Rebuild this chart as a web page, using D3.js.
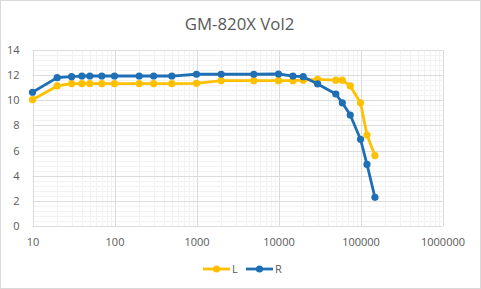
<!DOCTYPE html>
<html><head><meta charset="utf-8">
<script src="https://cdn.jsdelivr.net/npm/d3@7"></script>
<style>
html,body{margin:0;padding:0;background:#fff;}
svg{display:block;font-family:"Open Sans","Liberation Sans",sans-serif;}
</style></head>
<body><svg id="c" width="481" height="289"></svg>
<script>
const title = "GM-820X Vol2";
const freqs = [10,20,30,40,50,70,100,200,300,500,1000,2000,5000,10000,15000,20000,30000,50000,60000,75000,100000,120000,150000];
const seriesL = [10.05,11.14,11.32,11.32,11.32,11.32,11.32,11.32,11.32,11.32,11.35,11.56,11.56,11.56,11.56,11.6,11.67,11.6,11.6,11.14,9.8,7.24,5.6];
const seriesR = [10.64,11.8,11.88,11.93,11.93,11.93,11.93,11.93,11.93,11.93,12.07,12.07,12.07,12.09,11.93,11.88,11.3,10.5,9.8,8.83,6.9,4.9,2.28];
const seriesNames = ["L","R"];
const xTicks = [10,100,1000,10000,100000,1000000];
const yTicks = [0,2,4,6,8,10,12,14];

const colors = {L:"#FFC000", R:"#1F6FB5"};
const svg = d3.select("#c");
svg.append("rect").attr("x",0.5).attr("y",0.5).attr("width",480).attr("height",288)
  .attr("fill","#fff").attr("stroke","#d9d9d9");

const x = d3.scaleLog().domain([10,1000000]).range([32.5,442.5]);
const y = d3.scaleLinear().domain([0,14]).range([226,50]);

const g = svg.append("g");
const yMinor = d3.range(0,14.001,0.4).filter(v=>Math.abs(v/2-Math.round(v/2))>1e-6);
g.selectAll(".ymin").data(yMinor).join("line")
  .attr("x1",x.range()[0]).attr("x2",x.range()[1])
  .attr("y1",d=>Math.round(y(d))+0.5).attr("y2",d=>Math.round(y(d))+0.5)
  .attr("stroke","#f2f2f2").attr("stroke-width",1);
const xMinor = [];
for (let dec=10; dec<1000000; dec*=10) for (let k=2;k<=9;k++) xMinor.push(dec*k);
g.selectAll(".xmin").data(xMinor).join("line")
  .attr("y1",y(0)).attr("y2",y(14))
  .attr("x1",d=>Math.round(x(d))+0.5).attr("x2",d=>Math.round(x(d))+0.5)
  .attr("stroke","#f2f2f2").attr("stroke-width",1);
g.selectAll(".ymaj").data(yTicks).join("line")
  .attr("x1",x.range()[0]).attr("x2",x.range()[1])
  .attr("y1",d=>Math.round(y(d))+0.5).attr("y2",d=>Math.round(y(d))+0.5)
  .attr("stroke","#dcdcdc").attr("stroke-width",1);
g.selectAll(".xmaj").data(xTicks).join("line")
  .attr("y1",y(0)).attr("y2",y(14))
  .attr("x1",d=>Math.round(x(d))+0.5).attr("x2",d=>Math.round(x(d))+0.5)
  .attr("stroke","#dcdcdc").attr("stroke-width",1);

const yAxis = svg.append("g").attr("transform",`translate(${x.range()[0]-10},0)`)
  .call(d3.axisLeft(y).tickValues(yTicks).tickSize(0).tickFormat(d3.format("d")));
yAxis.select(".domain").remove();
yAxis.selectAll("text").attr("fill","#595959").attr("font-size",11).attr("font-family","Open Sans, Liberation Sans, sans-serif");

const xAxis = svg.append("g").attr("transform",`translate(0,${y(0)+9})`)
  .call(d3.axisBottom(x).tickValues(xTicks).tickSize(0).tickFormat(d3.format("d")));
xAxis.select(".domain").remove();
xAxis.selectAll("text").attr("fill","#595959").attr("font-size",11).attr("font-family","Open Sans, Liberation Sans, sans-serif");

svg.append("text").attr("x",239.5).attr("y",29.5).attr("text-anchor","middle")
  .attr("fill","#595959").attr("font-size",16.8).text(title);

const data = {L:seriesL, R:seriesR};
const line = d3.line().x(d=>x(d[0])).y(d=>y(d[1]));
seriesNames.forEach(name=>{
  const pts = freqs.map((f,i)=>[f,data[name][i]]);
  svg.append("path").datum(pts).attr("d",line).attr("fill","none")
    .attr("stroke",colors[name]).attr("stroke-width",2.8).attr("stroke-linejoin","round");
  svg.append("g").selectAll("circle").data(pts).join("circle")
    .attr("cx",d=>x(d[0])).attr("cy",d=>y(d[1])).attr("r",3.6).attr("fill",colors[name]);
});

const leg = svg.append("g");
const legItems = [{n:"L",x0:203},{n:"R",x0:246}];
legItems.forEach(it=>{
  leg.append("line").attr("x1",it.x0).attr("x2",it.x0+27).attr("y1",269).attr("y2",269)
    .attr("stroke",colors[it.n]).attr("stroke-width",2.8);
  leg.append("circle").attr("cx",it.x0+13.5).attr("cy",269).attr("r",3.6).attr("fill",colors[it.n]);
  leg.append("text").attr("x",it.x0+29).attr("y",273).attr("fill","#595959")
    .attr("font-size",11).text(it.n);
});
</script></body></html>
